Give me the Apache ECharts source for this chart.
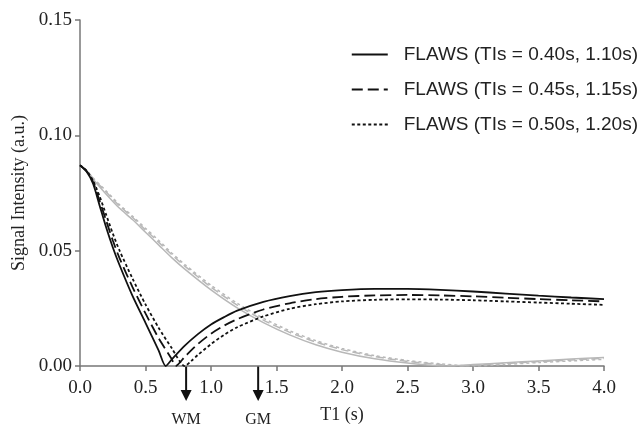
<!DOCTYPE html>
<html>
<head>
<meta charset="utf-8">
<script src="https://cdn.jsdelivr.net/npm/echarts@6/dist/echarts.min.js"></script>
<style>
  html, body { margin: 0; padding: 0; background: #fff; }
  #chart { width: 640px; height: 429px; }
</style>
</head>
<body>
<div id="chart"></div>
<script>
// tick labels
var xTicks = [0, 0.5, 1.0, 1.5, 2.0, 2.5, 3.0, 3.5, 4.0];
var yTicks = [0, 0.05, 0.10, 0.15];

// legend names
var names = ['FLAWS (TIs = 0.40s, 1.10s)', 'FLAWS (TIs = 0.45s, 1.15s)', 'FLAWS (TIs = 0.50s, 1.20s)'];

// black curves (WM-like), T1 in s
var blackSolidT1 = [0, 0.05, 0.1, 0.15, 0.2, 0.25, 0.3, 0.4, 0.5, 0.6, 0.654, 0.7, 0.8, 0.9, 1.0, 1.1, 1.2, 1.4, 1.6, 1.8, 2.0, 2.25, 2.5, 2.75, 3.0, 3.25, 3.5, 3.75, 4.0];
var blackSolid   = [0.087, 0.0843, 0.0790, 0.0695, 0.0600, 0.0515, 0.0440, 0.0305, 0.0187, 0.0068, 0, 0.0028, 0.0088, 0.0138, 0.0180, 0.0212, 0.0240, 0.0278, 0.0303, 0.0320, 0.0329, 0.0334, 0.0334, 0.0330, 0.0323, 0.0314, 0.0305, 0.0297, 0.0290];

var blackDashT1 = [0, 0.05, 0.1, 0.15, 0.2, 0.25, 0.3, 0.4, 0.5, 0.6, 0.7, 0.73, 0.8, 0.9, 1.0, 1.1, 1.2, 1.4, 1.6, 1.8, 2.0, 2.25, 2.5, 2.75, 3.0, 3.25, 3.5, 3.75, 4.0];
var blackDash   = [0.087, 0.0845, 0.0797, 0.0715, 0.0630, 0.0545, 0.0470, 0.0343, 0.0228, 0.0121, 0.0030, 0, 0.0040, 0.0095, 0.0140, 0.0175, 0.0203, 0.0245, 0.0272, 0.0290, 0.0300, 0.0306, 0.0308, 0.0306, 0.0302, 0.0296, 0.0290, 0.0285, 0.0280];

var blackDotT1 = [0, 0.05, 0.1, 0.15, 0.2, 0.25, 0.3, 0.4, 0.5, 0.6, 0.7, 0.8, 0.85, 0.9, 1.0, 1.1, 1.2, 1.4, 1.6, 1.8, 2.0, 2.25, 2.5, 2.75, 3.0, 3.25, 3.5, 3.75, 4.0];
var blackDot   = [0.087, 0.0847, 0.0803, 0.0735, 0.0655, 0.0575, 0.0503, 0.0380, 0.0267, 0.0166, 0.0078, 0, 0.0022, 0.0048, 0.0095, 0.0135, 0.0168, 0.0215, 0.0248, 0.0268, 0.0280, 0.0287, 0.0289, 0.0288, 0.0285, 0.0280, 0.0275, 0.0270, 0.0265];

// gray curves (GM-like)
var graySolidT1 = [0, 0.05, 0.1, 0.2, 0.3, 0.4, 0.5, 0.6, 0.7, 0.8, 1.0, 1.2, 1.4, 1.6, 1.8, 2.0, 2.25, 2.5, 2.8, 3.0, 3.25, 3.5, 3.75, 4.0];
var graySolid   = [0.087, 0.0846, 0.0810, 0.0745, 0.0685, 0.0635, 0.058, 0.0525, 0.047, 0.042, 0.0330, 0.0252, 0.0188, 0.0135, 0.0092, 0.0060, 0.0031, 0.0013, 0, 0.0006, 0.0014, 0.0022, 0.0030, 0.0037];

var grayDashT1 = [0, 0.05, 0.1, 0.2, 0.3, 0.4, 0.5, 0.6, 0.7, 0.8, 1.0, 1.2, 1.4, 1.6, 1.8, 2.0, 2.25, 2.5, 2.75, 2.9, 3.0, 3.25, 3.5, 3.75, 4.0];
var grayDash   = [0.087, 0.0847, 0.0813, 0.0754, 0.0695, 0.0645, 0.059, 0.0537, 0.0483, 0.0433, 0.0342, 0.0264, 0.0199, 0.0146, 0.0104, 0.0071, 0.0041, 0.0020, 0.0006, 0, 0.0003, 0.0011, 0.0019, 0.0026, 0.0033];

var grayDotT1 = [0, 0.05, 0.1, 0.2, 0.3, 0.4, 0.5, 0.6, 0.7, 0.8, 1.0, 1.2, 1.4, 1.6, 1.8, 2.0, 2.25, 2.5, 2.75, 3.0, 3.25, 3.5, 3.75, 4.0];
var grayDot   = [0.087, 0.0848, 0.0815, 0.0759, 0.070, 0.065, 0.0597, 0.0545, 0.049, 0.044, 0.035, 0.0272, 0.0207, 0.0153, 0.011, 0.0076, 0.0045, 0.0024, 0.0009, 0, 0.0007, 0.0015, 0.0022, 0.0029];

// tissue T1 markers under the axis
var markerNames = ['WM', 'GM'];
var markerT1 = [0.81, 1.36];

function pairs(xs, ys) {
    var out = [];
    for (var i = 0; i < xs.length; i++) out.push([xs[i], ys[i]]);
    return out;
}

function curve(name, xs, ys, color, width, dash) {
    return {
        name: name,
        type: 'line',
        data: pairs(xs, ys),
        symbol: 'none',
        smooth: 0.25,
        lineStyle: { color: color, width: width, type: dash },
        itemStyle: { color: color },
        z: color === '#111' ? 3 : 2
    };
}

var chart = echarts.init(document.getElementById('chart'));
var serif = 'Liberation Serif, Times New Roman, serif';
var gray = '#b8b8b8';

chart.setOption({
    animation: false,
    backgroundColor: '#fff',
    grid: { left: 80, right: 36, top: 20, bottom: 61 },
    legend: {
        data: names,
        orient: 'vertical',
        right: -3,
        top: 40,
        itemWidth: 36,
        itemHeight: 14,
        itemGap: 16,
        itemStyle: { opacity: 0 },
        textStyle: {
            fontFamily: 'Liberation Sans, Arial, sans-serif', fontSize: 19, color: '#222',
            padding: [0, 0, 0, 11]
        }
    },
    xAxis: {
        type: 'value',
        min: 0, max: 4, interval: 0.5,
        name: 'T1 (s)',
        nameLocation: 'middle',
        nameGap: 40,
        nameTextStyle: { fontFamily: serif, fontSize: 18, color: '#222' },
        axisLine: { lineStyle: { color: '#777', width: 1.5 } },
        axisTick: { length: 5, lineStyle: { color: '#777', width: 1.5 } },
        axisLabel: {
            fontFamily: serif, fontSize: 19, color: '#222', margin: 13,
            formatter: function (v) { return xTicks.indexOf(v) >= 0 ? v.toFixed(1) : ''; }
        },
        splitLine: { show: false }
    },
    yAxis: {
        type: 'value',
        min: 0, max: 0.15, interval: 0.05,
        name: 'Signal Intensity (a.u.)',
        nameLocation: 'middle',
        nameGap: 50,
        nameTextStyle: { fontFamily: serif, fontSize: 18, color: '#222' },
        axisLine: { show: true, lineStyle: { color: '#777', width: 1.5 } },
        axisTick: { show: true, length: 5, lineStyle: { color: '#777', width: 1.5 } },
        axisLabel: {
            fontFamily: serif, fontSize: 19, color: '#222', margin: 8,
            formatter: function (v) {
                for (var i = 0; i < yTicks.length; i++) {
                    if (Math.abs(yTicks[i] - v) < 1e-9) return yTicks[i].toFixed(2);
                }
                return '';
            }
        },
        splitLine: { show: false }
    },
    series: [
        curve('gray solid', graySolidT1, graySolid, gray, 1.5, 'solid'),
        curve('gray dashed', grayDashT1, grayDash, gray, 1.5, [8, 4]),
        curve('gray dotted', grayDotT1, grayDot, gray, 1.5, [3, 3]),
        curve(names[0], blackSolidT1, blackSolid, '#111', 1.8, 'solid'),
        curve(names[1], blackDashT1, blackDash, '#111', 1.8, [11, 5]),
        curve(names[2], blackDotT1, blackDot, '#111', 1.8, [3, 2.5])
    ]
});

// arrows for WM / GM placed with the axis scale
var graphics = [];
var y0 = chart.convertToPixel({ yAxisIndex: 0 }, 0);
for (var i = 0; i < markerT1.length; i++) {
    var px = chart.convertToPixel({ xAxisIndex: 0 }, markerT1[i]);
    graphics.push({
        type: 'line',
        shape: { x1: px, y1: y0, x2: px, y2: y0 + 26 },
        style: { stroke: '#111', lineWidth: 2 }
    });
    graphics.push({
        type: 'polygon',
        shape: { points: [[px - 5.5, y0 + 24], [px + 5.5, y0 + 24], [px, y0 + 35]] },
        style: { fill: '#111' }
    });
    graphics.push({
        type: 'text',
        x: px, y: y0 + 54,
        style: {
            text: markerNames[i], fill: '#222',
            font: '16px ' + serif,
            textAlign: 'center', textVerticalAlign: 'middle'
        }
    });
}
chart.setOption({ graphic: graphics });
</script>
</body>
</html>
